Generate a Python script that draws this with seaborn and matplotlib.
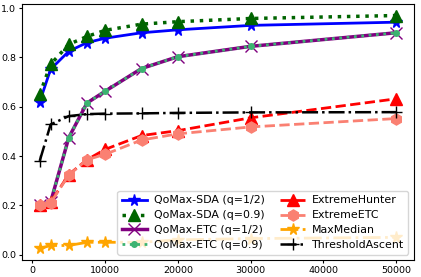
import numpy as np
import pandas as pd
import seaborn as sns
from matplotlib import pyplot as plt

plt.rcParams['font.family'] = ['DejaVu Sans']

budget = [1000, 2500, 5000, 7500, 10000, 15000, 20000, 30000, 50000]

qomax_sda_half = [0.62, 0.752, 0.825, 0.86, 0.878, 0.9, 0.912, 0.93, 0.943]
qomax_sda_09 = [0.65, 0.772, 0.853, 0.885, 0.91, 0.935, 0.945, 0.958, 0.97]
qomax_etc_half = [0.2, 0.213, 0.475, 0.615, 0.663, 0.755, 0.803, 0.845, 0.9]
qomax_etc_09 = [0.2, 0.213, 0.475, 0.615, 0.663, 0.755, 0.803, 0.845, 0.9]
extreme_hunter = [0.2, 0.213, 0.325, 0.385, 0.427, 0.483, 0.503, 0.555, 0.632]
extreme_etc = [0.2, 0.21, 0.323, 0.385, 0.407, 0.465, 0.49, 0.518, 0.552]
max_median = [0.025, 0.037, 0.037, 0.05, 0.05, 0.05, 0.06, 0.065, 0.07]
threshold_ascent = [0.38, 0.528, 0.562, 0.57, 0.572, 0.573, 0.575, 0.577, 0.578]

labels = ['QoMax-SDA (q=1/2)', 'QoMax-SDA (q=0.9)', 'QoMax-ETC (q=1/2)', 'QoMax-ETC (q=0.9)',
          'ExtremeHunter', 'ExtremeETC', 'MaxMedian', 'ThresholdAscent']
series = [qomax_sda_half, qomax_sda_09, qomax_etc_half, qomax_etc_09,
          extreme_hunter, extreme_etc, max_median, threshold_ascent]

# color, marker, linestyle, markersize, linewidth
styles = [
    ('blue', '*', '-', 8.5, 2),
    ('darkgreen', '^', ':', 8, 2.5),
    ('purple', 'x', '-', 8, 2.5),
    ('mediumseagreen', 'o', ':', 4, 2),
    ('red', '^', '--', 8, 2),
    ('salmon', 'h', '--', 8, 2),
    ('orange', '*', '-.', 8.5, 2),
    ('black', '+', '-.', 9, 1.8),
]

fig, ax = plt.subplots(figsize=(4.21, 2.77), dpi=100)
fig.subplots_adjust(left=0.052, right=0.983, top=0.986, bottom=0.061)

for lab, vals, (c, m, ls, ms, lw) in zip(labels, series, styles):
    df = pd.DataFrame({'budget': budget, 'value': vals})
    sns.lineplot(data=df, x='budget', y='value', ax=ax, color=c, marker=m,
                 linestyle=ls, markersize=ms, linewidth=lw, label=lab,
                 markeredgecolor=c, markeredgewidth=1)

ax.set_xlabel('')
ax.set_ylabel('')
ax.set_xticks([0, 10000, 20000, 30000, 40000, 50000])
ax.set_yticks([0.0, 0.2, 0.4, 0.6, 0.8, 1.0])
ax.tick_params(labelsize=6.8, length=2.5, pad=1.5)
ax.legend(loc='lower right', ncol=2, fontsize=7.9, handlelength=2.3,
          borderpad=0.4, labelspacing=0.45, columnspacing=1.4, handletextpad=0.6)

plt.savefig('out.png', dpi=100)
